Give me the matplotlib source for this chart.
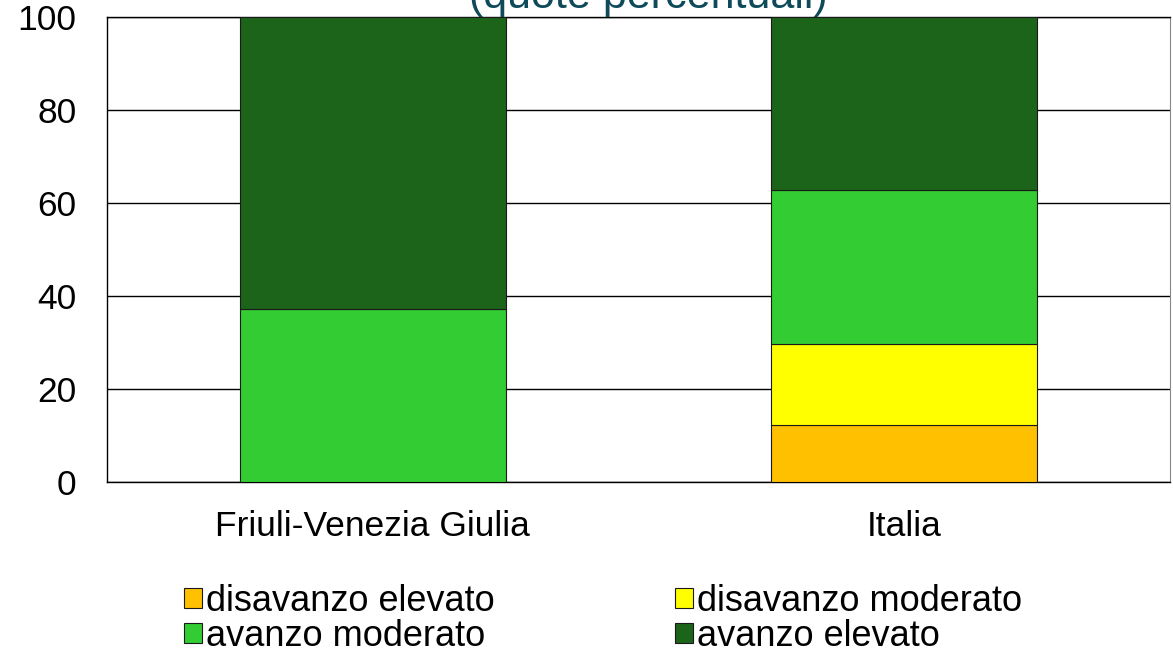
import matplotlib
matplotlib.use('Agg')
import matplotlib.pyplot as plt
import numpy as np

# data (quote percentuali)
regions = ['Friuli-Venezia Giulia', 'Italia']
labels = ['disavanzo elevato', 'disavanzo moderato', 'avanzo moderato', 'avanzo elevato']
disavanzo_elevato = [0.0, 12.3]
disavanzo_moderato = [0.0, 17.3]
avanzo_moderato = [37.3, 33.2]
avanzo_elevato = [62.7, 37.2]
colors = ['#FFC000', '#FFFF00', '#33CC33', '#1C641A']

plt.rcParams['font.family'] = ['Liberation Sans', 'DejaVu Sans']

fig = plt.figure(figsize=(11.73, 6.52), dpi=100)
ax = fig.add_axes([107/1173, 1 - 482/652, (1170 - 107)/1173, (482 - 17)/652])

x = np.arange(len(regions))
bottom = np.zeros(len(regions))
for series, lab, col in zip([disavanzo_elevato, disavanzo_moderato, avanzo_moderato, avanzo_elevato], labels, colors):
    vals = np.array(series)
    ax.bar(x, vals, width=0.5, bottom=bottom, color=col, edgecolor='#1a1a1a',
           linewidth=0.8, label=lab, zorder=3)
    bottom += vals

ax.set_xlim(-0.5, 1.5)
ax.set_ylim(0, 100)
ax.set_yticks([0, 20, 40, 60, 80, 100])
ax.set_xticks(x)
ax.set_xticklabels(regions)
ax.tick_params(axis='both', length=0, labelsize=25.5)
ax.tick_params(axis='y', pad=22)
ax.tick_params(axis='x', pad=20)
ax.yaxis.grid(True, color='black', linewidth=1, zorder=0)
for side in ['left', 'bottom', 'top']:
    ax.spines[side].set_color('black')
    ax.spines[side].set_linewidth(1)
ax.spines['right'].set_color('#888888')

fig.text(648/1173, 1 - 8/652, '(quote percentuali)', ha='center', va='baseline',
         fontsize=31, color='#0E4A5A')

# legend filled row by row, like the original
handles, labs = ax.get_legend_handles_labels()
order = [0, 2, 1, 3]
fig.legend([handles[i] for i in order], [labs[i] for i in order], ncol=2, loc='upper left',
           bbox_to_anchor=(184/1173, 1 - 584/652), frameon=False, fontsize=26,
           handlelength=0.5, handleheight=0.5, handletextpad=0.1,
           labelspacing=0.0, columnspacing=5.0, borderpad=0, borderaxespad=0)

fig.savefig('out.png', dpi=100)
